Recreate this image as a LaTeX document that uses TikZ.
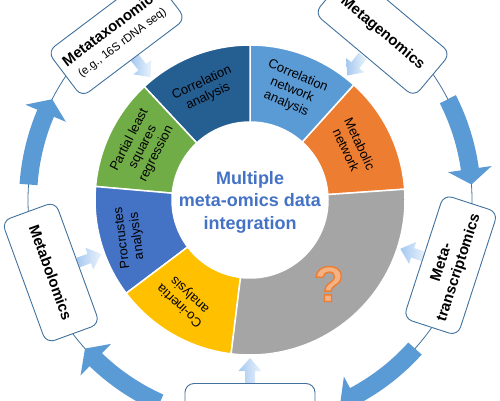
\documentclass[tikz,border=0pt]{standalone}
\usepackage{fontspec}
\setmainfont{Liberation Sans}
\definecolor{cDark}{HTML}{255E91}
\definecolor{cLight}{HTML}{5B9BD5}
\definecolor{cOrange}{HTML}{ED7D31}
\definecolor{cGray}{HTML}{A5A5A5}
\definecolor{cYellow}{HTML}{FFC000}
\definecolor{cBlue}{HTML}{4472C4}
\definecolor{cGreen}{HTML}{70AD47}
\definecolor{cBorder}{HTML}{41719C}
\definecolor{cArrow}{HTML}{5B9BD5}
\definecolor{cTip}{RGB}{165,200,240}
\definecolor{cBase}{RGB}{235,243,252}
\definecolor{cQfill}{HTML}{F4B183}
\tikzset{
 omicsbox/.style={draw=cBorder, line width=0.9pt, fill=white, rounded corners=9pt, minimum width=130pt, minimum height=57pt, align=center, inner sep=2pt, font=\fontsize{15}{18}\selectfont\bfseries},
 seglabel/.style={font=\fontsize{13}{15}\selectfont, align=center, text=black},
 centerlabel/.style={font=\fontsize{18}{22.5}\selectfont\bfseries, text=cBlue, align=center},
 ringline/.style={draw=cBorder, line width=0.8pt},
 bigarrow/.style={fill=cArrow},
 smallarrow/.style={left color=cTip, right color=cBase},
 seg/.style={draw=white, line width=1.5pt},
}
\newcommand{\donutseg}[3]{\path[seg, fill=#1] (#2:155) arc[start angle=#2, end angle=#3, radius=155] -- (#3:78) arc[start angle=#3, end angle=#2, radius=78] -- cycle;}
\newcommand{\ringarrow}[3]{\path[bigarrow] (#1:213) arc[start angle=#1, end angle=#2, radius=213] -- (#2:200) -- (#3:222) -- (#2:244) -- (#2:231) arc[start angle=#2, end angle=#1, radius=231] -- cycle;}
\newcommand{\feedarrow}[1]{\shade[smallarrow, rotate=#1] (183,-5) -- (171,-5) -- (171,-11.5) -- (158,0) -- (171,11.5) -- (171,5) -- (183,5) -- cycle;}
\begin{document}
\begin{tikzpicture}[x=1pt,y=1pt]
\useasboundingbox (0,0) rectangle (500,400);
\clip (0,0) rectangle (500,400);
\begin{scope}[shift={(250,200)}]
% thin ring
\draw[ringline] (0,0) circle[radius=222];
% big ring arrows (clockwise)
\ringarrow{176}{157}{153}
\ringarrow{27}{8}{4}
\ringarrow{-42}{-62}{-66}
\ringarrow{246}{226}{222}
% small feeding arrows
\feedarrow{129}
\feedarrow{52}
\feedarrow{-18}
\feedarrow{-90}
\feedarrow{200}
% boxes
\node[omicsbox, rotate=37] (mtx) at (129:212) {Metataxonomics\\[-1pt]{\fontsize{11.5}{13}\mdseries\selectfont (e.g., 16S rDNA seq)}};
\node[omicsbox, rotate=-40] (mgn) at (51.5:213) {Metagenomics};
\node[omicsbox, rotate=72] (mtr) at (-18:211) {Meta-\\transcriptomics};
\node[omicsbox] (mpr) at (-90:212) {};
\node[omicsbox, rotate=-70] (mbl) at (200:212) {Metabolomics};
% donut
\donutseg{cOrange}{4}{48}
\donutseg{cLight}{48}{90}
\donutseg{cDark}{90}{133}
\donutseg{cGreen}{133}{175}
\donutseg{cBlue}{175}{217}
\donutseg{cYellow}{217}{263}
\donutseg{cGray}{263}{364}
% segment labels
\node[seglabel, rotate=25] (ca) at (-45,110) {Correlation\\analysis};
\node[seglabel, rotate=-23] (cna) at (42,110) {Correlation\\network\\analysis};
\node[seglabel, rotate=-65] (mn) at (103,53) {Metabolic\\network};
\node[seglabel, rotate=63] (pls) at (-107,53) {Partial least\\squares\\regression};
\node[seglabel, rotate=97] (pa) at (-120,-37) {Procrustes\\analysis};
\node[seglabel, rotate=137] (coa) at (-65,-100) {Co-inertia\\analysis};
% center
\node[centerlabel] (ctr) at (0,-2) {Multiple\\meta-omics data\\integration};
% question mark
\node[font=\fontsize{50}{50}\selectfont\bfseries, text=cQfill] (qm) at (79,-84) {\special{pdf:code 0.929 0.490 0.192 RG 2 Tr 1.4 w}?\special{pdf:code 0 Tr}};
\end{scope}
\end{tikzpicture}
\end{document}
